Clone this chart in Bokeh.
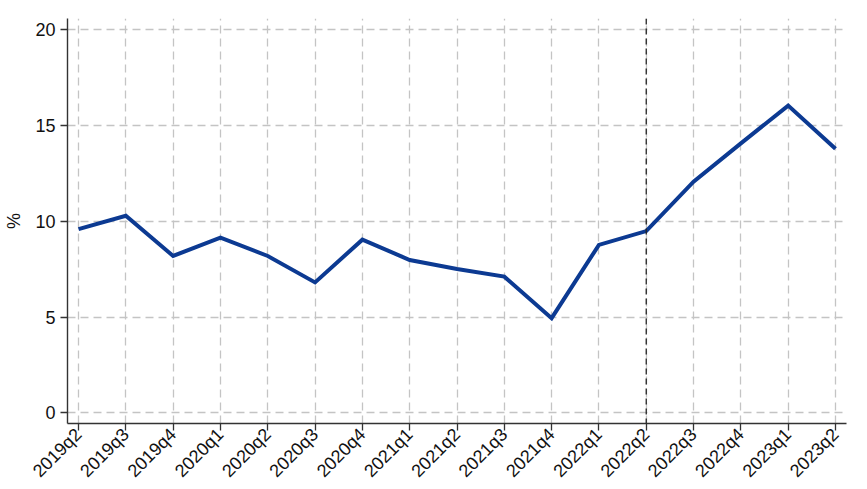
from bokeh.plotting import figure
from bokeh.models import FixedTicker, Span, Range1d
from bokeh.embed import file_html
from bokeh.resources import INLINE

quarters = ["2019q2", "2019q3", "2019q4", "2020q1", "2020q2", "2020q3", "2020q4",
            "2021q1", "2021q2", "2021q3", "2021q4", "2022q1", "2022q2", "2022q3",
            "2022q4", "2023q1", "2023q2"]
values = [9.6, 10.3, 8.2, 9.15, 8.2, 6.82, 9.05, 7.99, 7.52, 7.12, 4.95, 8.78,
          9.5, 12.08, 14.08, 16.05, 13.8]
y_ticks = [0, 5, 10, 15, 20]
marker_quarter = "2022q2"

x = list(range(len(quarters)))

p = figure(frame_width=779, frame_height=405, output_backend="svg", toolbar_location=None,
           x_range=Range1d(-0.233, len(quarters) - 1 + 0.233),
           y_range=Range1d(-0.55, 20.6),
           min_border_left=67, min_border_right=4, min_border_top=18,
           min_border_bottom=0)
p.outline_line_color = None
p.background_fill_color = "white"

font = "Liberation Sans"

p.line(x, values, line_color="#0c3a92", line_width=4, line_join="miter")

vline = Span(location=quarters.index(marker_quarter), dimension="height",
             line_color="#222222", line_width=1.3, line_dash="6 4")
p.add_layout(vline)

# grids
for g in (p.xgrid, p.ygrid):
    g.grid_line_color = "#c4c4c4"
    g.grid_line_width = 1.3
    g.grid_line_dash = "8 5"
p.xgrid.ticker = FixedTicker(ticks=x)
p.ygrid.ticker = FixedTicker(ticks=y_ticks)

# x axis
p.xaxis.ticker = FixedTicker(ticks=x)
p.xaxis.major_label_overrides = {i: q for i, q in enumerate(quarters)}
p.xaxis.major_label_orientation = 0.785398
p.xaxis.major_label_text_font = font
p.xaxis.major_label_text_font_size = "18px"
p.xaxis.major_label_text_color = "#111111"
p.xaxis.major_label_standoff = 1

# y axis
p.yaxis.ticker = FixedTicker(ticks=y_ticks)
p.yaxis.major_label_text_font = font
p.yaxis.major_label_text_font_size = "18px"
p.yaxis.major_label_text_color = "#111111"
p.yaxis.major_label_standoff = 5
p.yaxis.axis_label = "%"
p.yaxis.axis_label_text_font = font
p.yaxis.axis_label_text_font_size = "18px"
p.yaxis.axis_label_text_font_style = "normal"
p.yaxis.axis_label_text_color = "#111111"
p.yaxis.axis_label_standoff = 8

for ax in (p.xaxis, p.yaxis):
    ax.axis_line_color = "#333333"
    ax.axis_line_width = 1.4
    ax.major_tick_line_color = "#333333"
    ax.major_tick_line_width = 1.3
    ax.major_tick_out = 7
    ax.major_tick_in = 0
    ax.minor_tick_line_color = None

open("out.html", "w").write(file_html(p, INLINE))
